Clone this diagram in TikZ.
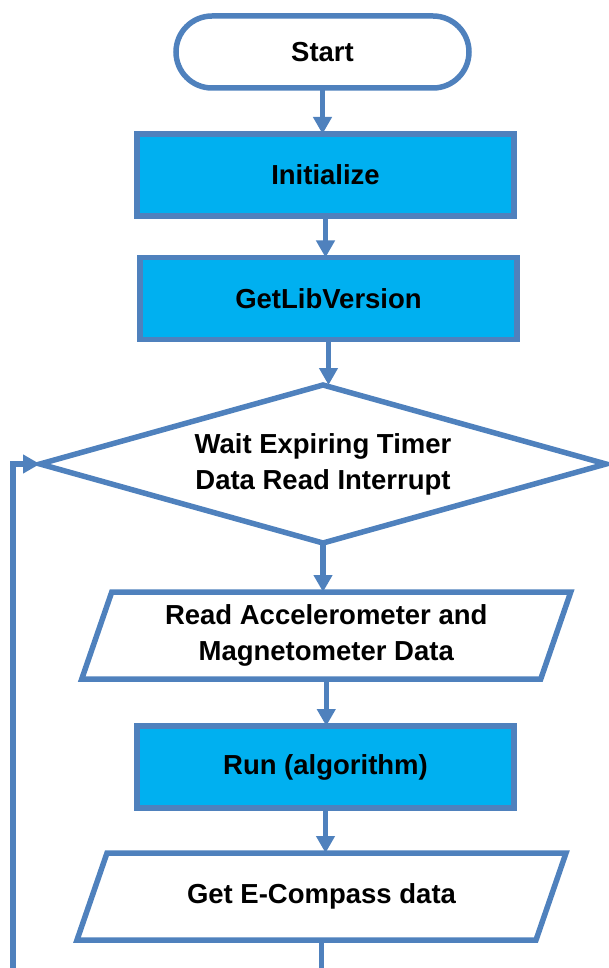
\documentclass[tikz,border=0pt]{standalone}
\usepackage{fontspec}
\setmainfont{Liberation Sans}
\usetikzlibrary{shapes.geometric,arrows.meta,calc}
\definecolor{bordc}{HTML}{4F81BD}
\definecolor{fillc}{HTML}{00B0F0}
\begin{document}
\begin{tikzpicture}[x=1pt,y=-1pt,
 every node/.style={font=\fontsize{27.5}{36}\selectfont\bfseries, align=center, inner sep=0pt, outer sep=0pt},
 term/.style={draw=bordc, line width=5.5pt, rounded corners=36pt, minimum width=293pt, minimum height=72pt, fill=white},
 proc/.style={draw=bordc, line width=5.5pt, fill=fillc, minimum width=377pt, minimum height=82pt},
 dec/.style={draw=bordc, line width=5.5pt, diamond, aspect=3.58, minimum width=566pt, minimum height=158pt},
 io/.style={minimum width=459pt, minimum height=87pt},
 iobox/.style={draw=bordc, line width=5.5pt, line join=miter},
 conn/.style={draw=bordc, line width=5.5pt, -{Triangle[length=17pt,width=18pt]}},
 plainline/.style={draw=bordc, line width=5.5pt}]
\useasboundingbox (0,0) rectangle (608,968);

\node[term] (start) at (322.5,52) {Start};
\node[proc] (init) at (325.5,175) {Initialize};
\node[proc] (glv) at (328.5,298.5) {GetLibVersion};
\node[dec] (dec) at (323,464) {Wait Expiring Timer\\Data Read Interrupt};
\node[io] (p1) at (326.25,635.5) {Read Accelerometer and\\Magnetometer Data};
\draw[iobox] ([xshift=15pt]p1.north west) -- ([xshift=15pt]p1.north east) -- ([xshift=-15pt]p1.south east) -- ([xshift=-15pt]p1.south west) -- cycle;
\node[proc] (run) at (325.5,767) {Run (algorithm)};
\node[io] (p2) at (321.5,896.5) {Get E-Compass data};
\draw[iobox] ([xshift=15pt]p2.north west) -- ([xshift=15pt]p2.north east) -- ([xshift=-15pt]p2.south east) -- ([xshift=-15pt]p2.south west) -- cycle;

\coordinate (bot) at (p2.south |- 0,968);
\coordinate (loopb) at (13,968);
\coordinate (loopt) at (13,464);

\draw[conn] (start.south) -- (start.south |- init.north);
\draw[conn] (init.south) -- (init.south |- glv.north);
\draw[conn] (glv.south) -- (glv.south |- dec.north);
\draw[conn] (dec.south) -- (dec.south |- p1.north);
\draw[conn] (p1.south) -- (p1.south |- run.north);
\draw[conn] (run.south) -- (run.south |- p2.north);
\draw[plainline] (p2.south) -- (bot);
\draw[conn] (loopb) -- (loopt) -- (dec.west);
\end{tikzpicture}
\end{document}
